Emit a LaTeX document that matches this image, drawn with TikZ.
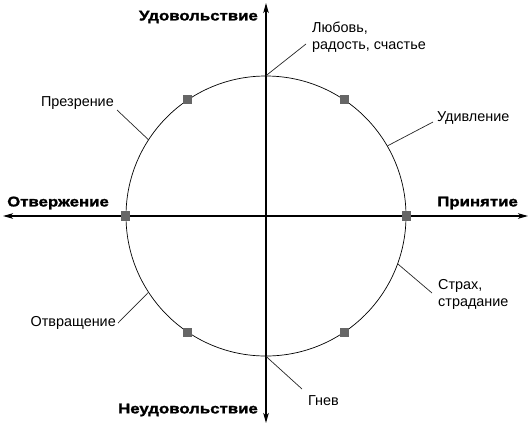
\documentclass[tikz,border=0pt]{standalone}
\usepackage{fontspec}
\setmainfont{Liberation Sans}
\newfontfamily\heavyfont[FakeStretch=1.2,FakeBold=1.6]{Liberation Sans Bold}
\usetikzlibrary{arrows.meta}
\begin{document}
\begin{tikzpicture}[x=1pt,y=-1pt,
  axis/.style={line width=1.1pt,-{Stealth[length=10pt,width=5.5pt,inset=2.5pt]}},
  leader/.style={line width=0.7pt,draw=black!85},
  lbl/.style={font=\fontsize{14.4}{17}\selectfont,inner sep=0pt,align=left},
  head/.style={font=\heavyfont\fontsize{14}{16}\selectfont,inner sep=0pt},
  sq/.style={fill=black!60,minimum size=9.5pt,inner sep=0pt,draw=none}]
\useasboundingbox (0,0) rectangle (532,426);
% circle
\node[draw,circle,line width=0.7pt,minimum size=280pt,inner sep=0pt] (c) at (266,216) {};
% axes
\coordinate (ctr) at (266,216);
\coordinate (xl) at (3,216);
\coordinate (xr) at (528,216);
\coordinate (yt) at (266,3);
\coordinate (yb) at (266,423);
\draw[axis] (ctr) -- (xl);
\draw[axis] (ctr) -- (xr);
\draw[axis] (ctr) -- (yt);
\draw[axis] (ctr) -- (yb);
% squares
\foreach \a/\n in {0/s0,56/s1,124/s2,180/s3,236/s4,304/s5}
  \node[sq] (\n) at (c.\a) {};
% bold axis labels
\node[head,anchor=east] (hU) at (258,17) {Удовольствие};
\node[head,anchor=east] (hN) at (258,410) {Неудовольствие};
\node[head,anchor=west] (hO) at (7,203) {Отвержение};
\node[head,anchor=east] (hP) at (518,203) {Принятие};
% labels
\node[lbl,anchor=west] (tL) at (312,37) {Любовь,\\радость, счастье};
\node[lbl,anchor=west] (tU) at (437,118) {Удивление};
\node[lbl,anchor=east] (tPr) at (114,103) {Презрение};
\node[lbl,anchor=east] (tOt) at (116,323) {Отвращение};
\node[lbl,anchor=west] (tS) at (438,294) {Страх,\\страдание};
\node[lbl,anchor=west] (tG) at (308,401) {Гнев};
% leader ends
\coordinate (eL) at (306,44);
\coordinate (eU) at (433,122);
\coordinate (ePr) at (117,110);
\coordinate (eOt) at (118,323);
\coordinate (eS) at (432,293);
\coordinate (eG) at (302,389);
\draw[leader] (c.north) -- (eL);
\draw[leader] (c.30) -- (eU);
\draw[leader] (c.147) -- (ePr);
\draw[leader] (c.213) -- (eOt);
\draw[leader] (c.340) -- (eS);
\draw[leader] (c.south) -- (eG);
\end{tikzpicture}
\end{document}
